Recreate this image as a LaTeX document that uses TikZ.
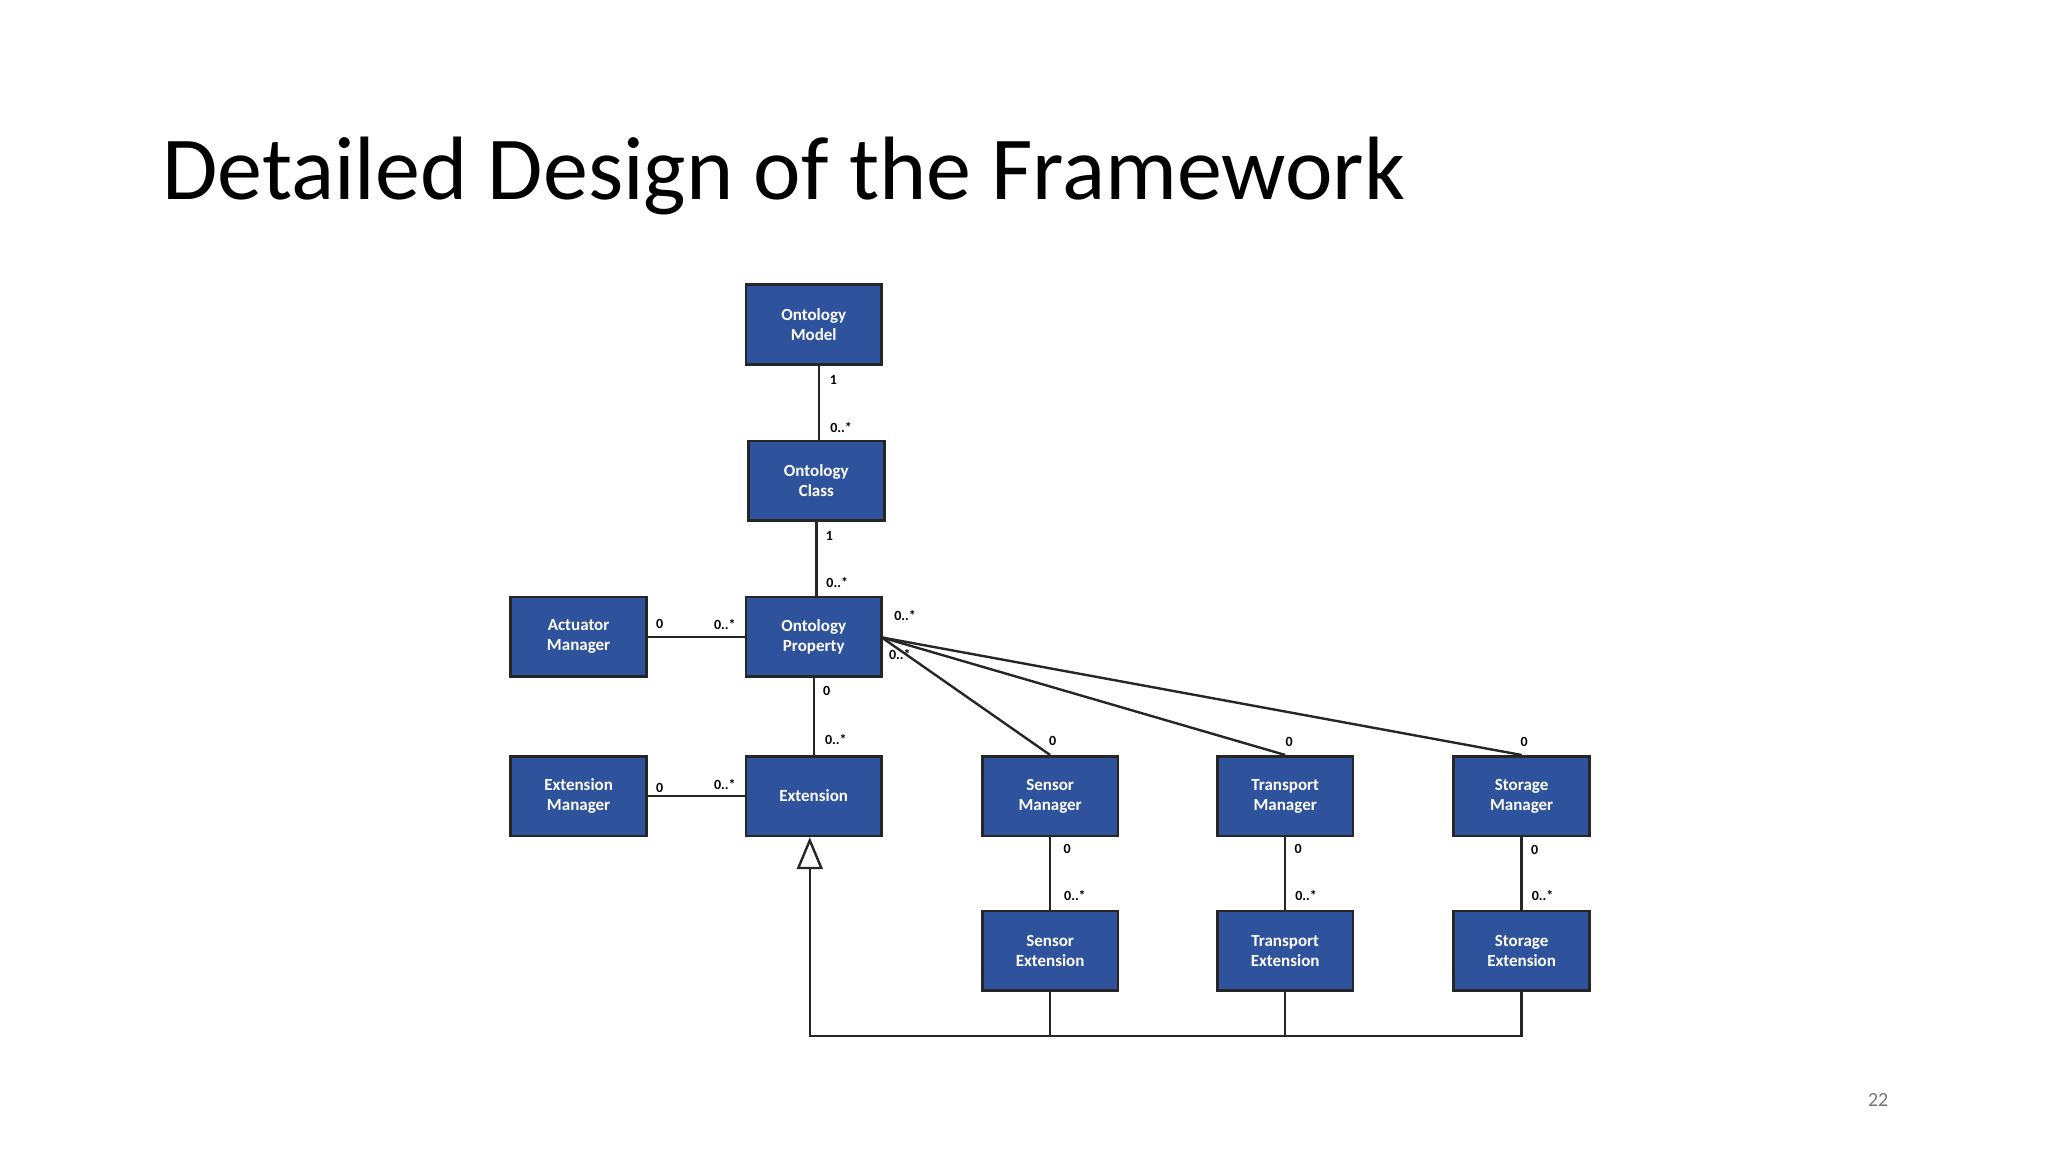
\documentclass[tikz,border=0pt]{standalone}
\usepackage{fontspec}
\setmainfont{Carlito}
\usetikzlibrary{arrows.meta}
\begin{document}
\begin{tikzpicture}[x=0.6531pt,y=-0.6531pt,
  box/.style={draw=black!85,line width=1.3pt,fill={rgb,255:red,46;green,82;blue,155},text=white,
    font=\fontsize{8.5}{10}\selectfont\bfseries,align=center,minimum width=67.9pt,minimum height=39.8pt,inner sep=1pt},
  lab/.style={font=\fontsize{7}{8}\selectfont\bfseries,inner sep=1pt},
  con/.style={line width=1.2pt,black!85}]
\useasboundingbox (0,0) rectangle (1568,882);
\node[font=\fontsize{45}{50}\selectfont,anchor=base west] (title) at (119,153) {Detailed Design of the Framework};
\node[font=\fontsize{10}{12}\selectfont,text=black!55] (pg) at (1438,842) {22};
\node[box] (om) at (623,248.5) {Ontology\\Model};
\node[box] (oc) at (625,368) {Ontology\\Class};
\node[box] (op) at (623,487.5) {Ontology\\Property};
\node[box] (am) at (443,487.5) {Actuator\\Manager};
\node[box] (em) at (443,609.5) {Extension\\Manager};
\node[box] (ex) at (623,609.5) {Extension};
\node[box] (sm) at (804,609.5) {Sensor\\Manager};
\node[box] (tm) at (984,609.5) {Transport\\Manager};
\node[box] (stm) at (1165,609.5) {Storage\\Manager};
\node[box] (se) at (804,728) {Sensor\\Extension};
\node[box] (te) at (984,728) {Transport\\Extension};
\node[box] (ste) at (1165,728) {Storage\\Extension};
% associations
\draw[con] (om.south-|627,0) -- (oc.north-|627,0);
\node[lab] (l1) at (638,291) {1};
\node[lab] (l2) at (644,327) {0..*};
\draw[con] (oc.south-|625,0) -- (op.north-|625,0);
\node[lab] (l3) at (635,410) {1};
\node[lab] (l4) at (641,446) {0..*};
\draw[con] (am.east) -- (op.west);
\node[lab] (l5) at (505,478) {0};
\node[lab] (l6) at (555,478) {0..*};
\draw[con] (em.east) -- (ex.west);
\node[lab] (l7) at (505,603) {0};
\node[lab] (l8) at (555,601) {0..*};
\draw[con] (op.south) -- (ex.north);
\node[lab] (l9) at (633,529) {0};
\node[lab] (l10) at (640,566) {0..*};
\coordinate (opr) at (675,488);
\draw[con] (opr) -- (sm.north);
\draw[con] (opr) -- (tm.north);
\draw[con] (opr) -- (stm.north);
\node[lab] (l11) at (693,471) {0..*};
\node[lab] (l12) at (689,501) {0..*};
\node[lab] (l13) at (806,567) {0};
\node[lab] (l14) at (987,568) {0};
\node[lab] (l15) at (1167,568) {0};
\draw[con] (sm.south) -- (se.north);
\draw[con] (tm.south) -- (te.north);
\draw[con] (stm.south) -- (ste.north);
\node[lab] (l16) at (817,650) {0};
\node[lab] (l17) at (823,686) {0..*};
\node[lab] (l18) at (994,650) {0};
\node[lab] (l19) at (1000,686) {0..*};
\node[lab] (l20) at (1175,651) {0};
\node[lab] (l21) at (1181,686) {0..*};
% inheritance
\coordinate (b) at (620,793);
\draw[con] (se.south) -- (se.south|-b);
\draw[con] (te.south) -- (te.south|-b);
\draw[con,-{Triangle[open,width=13pt,length=16pt]}] (ste.south) -- (ste.south|-b) -- (b) -- (ex.south-|b);
\end{tikzpicture}
\end{document}
